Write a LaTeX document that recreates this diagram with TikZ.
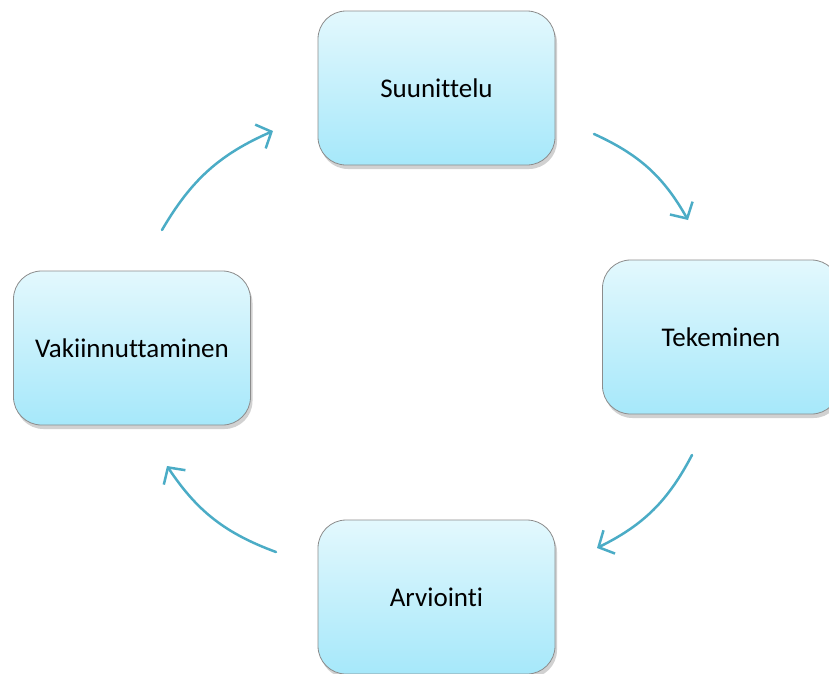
\documentclass[tikz,border=0pt]{standalone}
\usepackage{fontspec}
\setmainfont{Carlito}[Ligatures={NoCommon}]
\usetikzlibrary{shadows,arrows.meta}
\definecolor{boxtop}{HTML}{E3F8FD}
\definecolor{boxbot}{HTML}{A6E8FA}
\definecolor{boxline}{HTML}{8C8C8C}
\definecolor{arrowc}{HTML}{4BACC6}
\tikzset{
  stagebox/.style={draw=boxline, line width=0.8pt, rounded corners=28pt,
    top color=boxtop, bottom color=boxbot,
    minimum width=237pt, minimum height=154pt, inner sep=0pt,
    font=\fontsize{27}{32}\selectfont,
    drop shadow={shadow xshift=2pt, shadow yshift=-4pt, opacity=0.3, fill=black!60}},
  cyclearrow/.style={draw=arrowc, line width=2.5pt, line cap=round,
    -{Straight Barb[length=12pt, width=26pt, line width=2.5pt]}}
}
\begin{document}
\begin{tikzpicture}[x=1pt,y=-1pt]
\useasboundingbox (0,0) rectangle (829,673);
\begin{scope}
\clip (0,0) rectangle (829,673);
\node[stagebox] (s) at (436.5,88) {Suunittelu};
\node[stagebox] (t) at (721,337) {Tekeminen};
\node[stagebox] (a) at (436.5,597) {Arviointi};
\node[stagebox] (v) at (132,348) {Vakiinnuttaminen};
\end{scope}
\coordinate (a1s) at (594,134);
\coordinate (a1e) at (688,220);
\coordinate (a2s) at (692,455);
\coordinate (a2e) at (597,548);
\coordinate (a3s) at (276,552);
\coordinate (a3e) at (167,466);
\coordinate (a4s) at (162,230);
\coordinate (a4e) at (273,131);
\draw[cyclearrow] (a1s) to[bend left=18] (a1e);
\draw[cyclearrow] (a2s) to[bend left=18] (a2e);
\draw[cyclearrow] (a3s) to[bend left=18] (a3e);
\draw[cyclearrow] (a4s) to[bend left=18] (a4e);
\end{tikzpicture}
\end{document}
